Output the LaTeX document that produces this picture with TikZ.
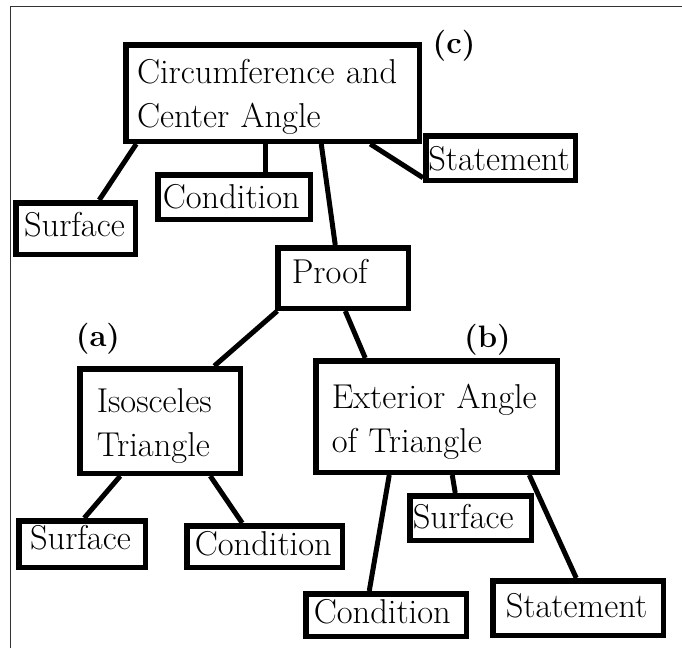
\documentclass[tikz,border=0pt]{standalone}
\usepackage{tikz}
\usetikzlibrary{backgrounds}
\tikzset{
  topicbox/.style={draw, line width=5.5pt, fill=white, inner ysep=0pt, align=left,
    font=\fontsize{34.5}{44}\selectfont},
  boxsize/.style n args={4}{text width=#1, inner xsep=#2, text height=#3, text depth=#4},
  link/.style={line width=5pt},
  tag/.style={font=\bfseries\fontsize{31}{33}\selectfont},
}
\begin{document}
\begin{tikzpicture}[x=1pt,y=-1pt]
  \useasboundingbox (0,0) rectangle (682,648);
  \draw[line width=1pt,black!80] (10.5,648) -- (10.5,6) -- (682,6);
  % (c) circumference and center angle
  \node[topicbox,boxsize={271pt}{11.25pt}{38.25pt}{58.25pt}] (circ) at (272.5,93) {Circumference and\\Center Angle};
  \node[topicbox,boxsize={144.5pt}{2.5pt}{34.25pt}{10.25pt}] (stmtC) at (500.5,158) {Statement};
  \node[topicbox,boxsize={142.5pt}{5pt}{33.25pt}{11.25pt}] (condC) at (234,197) {Condition};
  \node[topicbox,boxsize={103pt}{8.25pt}{33.25pt}{18.25pt}] (surfC) at (75.5,228.5) {Surface};
  \node[topicbox,boxsize={102.5pt}{14pt}{35.25pt}{25.25pt}] (proof) at (343,278) {Proof};
  % (a) isosceles triangle
  \node[topicbox,boxsize={126.5pt}{17pt}{43.25pt}{61.25pt}] (iso) at (160,421) {Isosceles\\Triangle};
  \node[topicbox,boxsize={104pt}{11.25pt}{28.25pt}{18.25pt}] (surfA) at (82,544) {Surface};
  \node[topicbox,boxsize={139.5pt}{8pt}{29.25pt}{12.25pt}] (condA) at (264.5,546.5) {Condition};
  % (b) exterior angle
  \node[topicbox,boxsize={209.5pt}{16pt}{47.25pt}{64.25pt}] (ext) at (436.5,416.5) {Exterior Angle\\of Triangle};
  \node[topicbox,boxsize={115.5pt}{3pt}{32.25pt}{12.25pt}] (surfB) at (470.5,518) {Surface};
  \node[topicbox,boxsize={144.5pt}{8pt}{29.25pt}{13.25pt}] (condB) at (386,615) {Condition};
  \node[topicbox,boxsize={144.5pt}{13pt}{36.25pt}{18.25pt}] (stmtB) at (578,608) {Statement};
  % labels
  \node[tag] (labc) at (454,46) {(c)};
  \node[tag] (laba) at (98,339) {(a)};
  \node[tag] (labb) at (487.5,340) {(b)};
  \begin{scope}[on background layer]
    \draw[link] ([xshift=13.25pt]circ.south west) -- ([xshift=86.25pt]surfC.north west);
    \draw[link] ([xshift=142.25pt]circ.south west) -- ([xshift=110.25pt]condC.north west);
    \draw[link] ([xshift=198.25pt]circ.south west) -- ([xshift=60.25pt]proof.north west);
    \draw[link] ([xshift=247.25pt]circ.south west) -- ([yshift=5.25pt]stmtC.south west);
    \draw[link] ([xshift=2.25pt]proof.south west) -- ([xshift=137.25pt]iso.north west);
    \draw[link] ([xshift=70.25pt]proof.south west) -- ([xshift=52.25pt]ext.north west);
    \draw[link] ([xshift=43.25pt]iso.south west) -- ([xshift=68.25pt]surfA.north west);
    \draw[link] ([xshift=133.25pt]iso.south west) -- ([xshift=58.25pt]condA.north west);
    \draw[link] ([xshift=76.25pt]ext.south west) -- ([xshift=66.25pt]condB.north west);
    \draw[link] ([xshift=139.25pt]ext.south west) -- ([xshift=48.25pt]surfB.north west);
    \draw[link] ([xshift=216.25pt]ext.south west) -- ([xshift=86.25pt]stmtB.north west);
  \end{scope}
\end{tikzpicture}
\end{document}
